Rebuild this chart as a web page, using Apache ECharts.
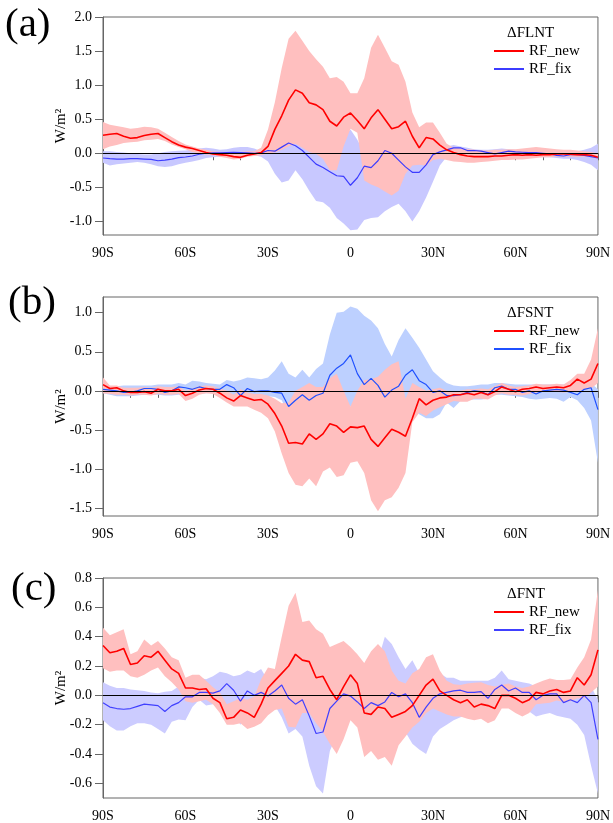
<!DOCTYPE html>
<html><head><meta charset="utf-8">
<script src="https://cdn.jsdelivr.net/npm/echarts@6/dist/echarts.min.js"></script>
<style>html,body{margin:0;padding:0;background:#fff}#c{width:613px;height:823px}</style>
</head><body><div id="c"></div>
<script>
// ---- categories (latitude) ----
const lats = [-90,-87.5,-85,-82.5,-80,-77.5,-75,-72.5,-70,-67.5,-65,-62.5,
  -60,-57.5,-55,-52.5,-50,-47.5,-45,-42.5,-40,-37.5,-35,-32.5,
  -30,-27.5,-25,-22.5,-20,-17.5,-15,-12.5,-10,-7.5,-5,-2.5,
  0,2.5,5,7.5,10,12.5,15,17.5,20,22.5,25,27.5,
  30,32.5,35,37.5,40,42.5,45,47.5,50,52.5,55,57.5,
  60,62.5,65,67.5,70,72.5,75,77.5,80,82.5,85,87.5,90];
const xTickLabels = ['90S','60S','30S','0','30N','60N','90N'];
const yTicksA = [-1.0,-0.5,0.0,0.5,1.0,1.5,2.0];
const yTicksB = [-1.5,-1.0,-0.5,0.0,0.5,1.0];
const yTicksC = [-0.6,-0.4,-0.2,0.0,0.2,0.4,0.6,0.8];

// ---- (a) dFLNT ----
const aNew = [0.265,0.28,0.29,0.25,0.22,0.23,0.26,0.28,0.29,0.23,0.17,0.12,
  0.09,0.07,0.04,0.01,-0.01,-0.02,-0.03,-0.05,-0.06,-0.03,-0.01,0.01,
  0.10,0.35,0.55,0.78,0.93,0.88,0.74,0.71,0.64,0.47,0.40,0.53,
  0.59,0.48,0.36,0.52,0.64,0.50,0.36,0.39,0.47,0.25,0.08,0.23,
  0.21,0.12,0.05,0.01,-0.02,-0.04,-0.05,-0.05,-0.05,-0.04,-0.04,-0.03,
  -0.02,-0.03,-0.02,-0.03,-0.02,-0.02,-0.01,-0.01,-0.015,-0.02,-0.02,-0.03,-0.06];
const aFix = [-0.07,-0.08,-0.085,-0.085,-0.08,-0.08,-0.085,-0.09,-0.11,-0.10,-0.085,-0.065,
  -0.055,-0.04,-0.015,0.0,0.005,0.005,0.01,0.015,0.01,0.005,0.0,0.005,
  0.04,0.03,0.09,0.15,0.11,0.04,-0.06,-0.16,-0.21,-0.27,-0.33,-0.34,
  -0.47,-0.36,-0.19,-0.21,-0.11,0.04,0.0,-0.1,-0.2,-0.28,-0.28,-0.17,
  -0.02,0.02,0.05,0.08,0.08,0.04,0.04,0.03,0.01,-0.01,0.01,0.03,
  0.02,0.015,0.01,0.01,0.0,-0.01,-0.03,-0.04,-0.02,-0.02,-0.03,-0.05,-0.07];
const aNewHi = [0.46,0.42,0.40,0.38,0.36,0.37,0.39,0.38,0.36,0.30,0.24,0.18,
  0.13,0.10,0.07,0.05,0.03,0.02,0.02,0.02,0.02,0.03,0.03,0.08,
  0.35,0.75,1.25,1.68,1.80,1.65,1.50,1.38,1.27,1.10,1.12,1.05,
  0.88,0.88,1.10,1.55,1.74,1.55,1.35,1.30,1.05,0.60,0.38,0.45,
  0.45,0.30,0.14,0.08,0.07,0.06,0.05,0.04,0.04,0.05,0.05,0.06,
  0.06,0.07,0.08,0.09,0.08,0.07,0.06,0.05,0.05,0.04,0.03,0.02,0.0];
const aNewLo = [0.06,0.10,0.12,0.15,0.16,0.17,0.19,0.20,0.21,0.18,0.13,0.09,
  0.06,0.02,0.0,-0.02,-0.03,-0.05,-0.07,-0.09,-0.08,-0.05,-0.04,-0.03,
  0.0,0.01,0.05,0.10,0.14,0.08,0.02,-0.01,-0.08,-0.25,-0.25,0.10,
  0.36,0.30,-0.40,-0.46,-0.50,-0.56,-0.62,-0.55,-0.30,-0.18,-0.17,-0.18,
  -0.10,-0.08,-0.10,-0.12,-0.13,-0.14,-0.14,-0.13,-0.12,-0.11,-0.10,-0.10,
  -0.09,-0.09,-0.08,-0.07,-0.06,-0.06,-0.05,-0.05,-0.05,-0.05,-0.05,-0.06,-0.08];
const aFixHi = [0.03,0.03,0.02,0.01,0.0,-0.01,-0.02,-0.02,0.0,0.02,0.03,0.035,
  0.04,0.05,0.07,0.08,0.07,0.05,0.06,0.08,0.09,0.09,0.07,0.03,
  0.05,0.07,0.10,0.16,0.18,0.12,0.05,0.0,-0.05,0.0,0.12,0.25,
  0.35,0.20,0.0,0.0,0.10,0.20,0.15,0.05,-0.05,-0.10,-0.10,0.0,
  0.06,0.09,0.10,0.12,0.10,0.08,0.06,0.05,0.05,0.06,0.07,0.06,
  0.05,0.05,0.04,0.04,0.03,0.03,0.02,0.02,0.02,0.03,0.05,0.08,0.14];
const aFixLo = [-0.14,-0.18,-0.16,-0.15,-0.14,-0.13,-0.14,-0.16,-0.19,-0.20,-0.19,-0.16,
  -0.14,-0.12,-0.10,-0.07,-0.06,-0.05,-0.04,-0.02,-0.02,-0.03,-0.03,-0.05,
  -0.12,-0.30,-0.43,-0.40,-0.25,-0.38,-0.55,-0.70,-0.72,-0.80,-0.95,-1.03,
  -1.13,-1.12,-0.98,-0.95,-0.94,-0.85,-0.79,-0.74,-0.85,-1.00,-0.85,-0.65,
  -0.42,-0.18,-0.05,-0.01,0.0,-0.02,-0.03,-0.04,-0.05,-0.05,-0.05,-0.05,
  -0.05,-0.05,-0.05,-0.05,-0.06,-0.06,-0.07,-0.08,-0.08,-0.10,-0.13,-0.17,-0.25];

// ---- (b) dFSNT ----
const bNew = [0.08,0.03,0.04,0.0,-0.02,-0.02,-0.01,-0.03,0.02,0.0,0.0,0.02,
  -0.06,-0.03,0.01,0.03,0.02,-0.03,-0.09,-0.13,-0.06,-0.09,-0.12,-0.11,
  -0.17,-0.29,-0.45,-0.67,-0.66,-0.68,-0.55,-0.62,-0.55,-0.42,-0.45,-0.53,
  -0.46,-0.47,-0.45,-0.62,-0.71,-0.60,-0.49,-0.53,-0.58,-0.35,-0.10,-0.18,
  -0.12,-0.09,-0.08,-0.05,-0.05,-0.03,-0.05,-0.02,-0.05,-0.01,0.05,0.02,
  -0.01,0.02,0.03,0.05,0.03,0.04,0.05,0.04,0.07,0.15,0.10,0.15,0.35];
const bFix = [0.02,0.01,0.0,-0.02,-0.02,0.0,0.03,0.03,0.02,-0.02,0.0,0.05,
  0.04,0.02,0.05,0.03,0.02,0.02,0.08,0.04,-0.06,0.03,-0.01,0.0,
  0.0,-0.02,-0.03,-0.20,-0.12,-0.05,-0.12,-0.06,-0.03,0.20,0.29,0.35,
  0.46,0.22,0.08,0.16,0.07,-0.08,0.01,0.06,0.20,0.27,0.13,0.08,
  -0.02,0.0,-0.06,-0.06,-0.05,-0.02,0.0,-0.01,-0.05,0.04,0.06,0.02,
  0.02,-0.02,0.0,-0.04,0.0,0.01,0.02,0.01,-0.02,-0.05,0.02,0.04,-0.24];
const bNewHi = [0.17,0.07,0.07,0.04,0.04,0.04,0.05,0.04,0.06,0.05,0.05,0.06,
  0.0,0.03,0.06,0.07,0.06,0.03,0.0,-0.05,0.02,-0.02,-0.04,-0.04,
  -0.06,-0.10,-0.16,-0.15,0.0,0.05,0.10,0.05,0.05,0.16,0.22,0.0,
  -0.20,0.0,0.14,0.15,0.18,0.27,0.34,0.38,-0.10,0.10,0.05,0.0,
  0.02,0.04,0.0,-0.02,0.0,0.02,0.02,0.03,0.02,0.06,0.10,0.07,
  0.05,0.06,0.07,0.09,0.08,0.08,0.09,0.08,0.14,0.22,0.22,0.40,0.80];
const bNewLo = [-0.03,-0.04,-0.05,-0.05,-0.06,-0.05,-0.05,-0.06,-0.04,-0.05,-0.05,-0.04,
  -0.13,-0.10,-0.05,-0.03,-0.04,-0.09,-0.15,-0.20,-0.20,-0.20,-0.24,-0.28,
  -0.35,-0.52,-0.80,-1.05,-1.20,-1.22,-1.12,-1.22,-1.03,-0.98,-1.10,-1.08,
  -0.92,-0.90,-1.05,-1.40,-1.54,-1.40,-1.36,-1.24,-1.05,-0.40,-0.28,-0.32,
  -0.25,-0.21,-0.17,-0.13,-0.14,-0.14,-0.10,-0.10,-0.11,-0.06,-0.03,-0.05,
  -0.05,-0.06,-0.04,-0.02,-0.01,0.0,-0.01,-0.02,-0.01,0.0,0.01,0.03,0.10];
const bFixHi = [0.04,0.05,0.06,0.07,0.07,0.07,0.07,0.07,0.08,0.08,0.08,0.10,
  0.08,0.13,0.12,0.10,0.09,0.08,0.14,0.12,0.14,0.17,0.16,0.15,
  0.17,0.26,0.38,0.22,0.17,0.27,0.17,0.28,0.35,0.72,1.00,1.01,
  1.08,1.05,0.96,0.90,0.80,0.60,0.44,0.65,0.80,0.68,0.55,0.40,
  0.25,0.17,0.10,0.07,0.06,0.06,0.07,0.08,0.08,0.10,0.10,0.09,
  0.08,0.08,0.08,0.08,0.08,0.08,0.08,0.08,0.09,0.10,0.12,0.10,0.02];
const bFixLo = [-0.03,-0.05,-0.07,-0.07,-0.07,-0.06,-0.05,-0.05,-0.05,-0.06,-0.06,-0.05,
  -0.06,-0.06,-0.04,-0.03,-0.03,-0.04,-0.06,-0.18,-0.11,-0.06,-0.06,-0.06,
  -0.07,-0.08,-0.12,-0.30,-0.30,-0.25,-0.30,-0.25,-0.20,-0.10,-0.10,-0.12,
  -0.20,-0.10,-0.20,-0.20,-0.30,-0.35,-0.30,-0.30,-0.30,-0.20,-0.30,-0.35,
  -0.35,-0.30,-0.15,-0.22,-0.13,-0.11,-0.11,-0.11,-0.10,-0.05,-0.05,-0.06,
  -0.07,-0.08,-0.10,-0.11,-0.10,-0.09,-0.10,-0.14,-0.08,-0.12,-0.22,-0.38,-0.92];

// ---- (c) dFNT ----
const cNew = [0.34,0.29,0.30,0.32,0.21,0.22,0.27,0.26,0.30,0.24,0.18,0.15,
  0.05,0.05,0.04,0.045,-0.02,-0.05,-0.16,-0.15,-0.10,-0.12,-0.15,-0.06,
  0.05,0.10,0.15,0.20,0.28,0.24,0.23,0.12,0.13,0.04,-0.03,0.06,
  0.14,0.08,-0.12,-0.13,-0.08,-0.09,-0.15,-0.13,-0.11,-0.07,0.0,0.07,
  0.11,0.03,0.0,-0.03,-0.05,-0.03,-0.08,-0.06,-0.07,-0.09,0.0,0.0,
  -0.02,-0.05,-0.03,0.02,0.01,0.03,0.04,0.02,0.03,0.12,0.07,0.14,0.31];
const cFix = [-0.05,-0.08,-0.09,-0.095,-0.09,-0.075,-0.06,-0.065,-0.07,-0.11,-0.07,-0.05,
  -0.01,-0.01,0.02,0.02,0.015,0.03,0.08,0.035,-0.04,0.03,0.0,0.02,
  -0.005,0.03,0.07,-0.02,-0.06,-0.03,-0.14,-0.26,-0.25,-0.09,-0.04,0.01,
  -0.005,-0.045,-0.09,-0.05,-0.07,-0.045,0.02,-0.01,0.01,-0.05,-0.15,-0.08,
  -0.02,0.01,0.02,0.03,0.035,0.02,0.02,0.025,-0.02,0.04,0.07,0.03,
  0.05,0.02,0.02,-0.03,0.0,0.01,0.01,-0.05,-0.03,-0.05,0.0,-0.05,-0.30];
const cNewHi = [0.46,0.41,0.43,0.45,0.28,0.30,0.38,0.34,0.37,0.32,0.26,0.24,
  0.12,0.14,0.14,0.10,0.055,0.02,-0.06,-0.04,-0.02,-0.03,-0.01,0.11,
  0.19,0.18,0.40,0.61,0.70,0.50,0.51,0.45,0.42,0.33,0.35,0.37,
  0.33,0.28,0.22,0.30,0.35,0.30,0.17,0.10,0.08,0.15,0.18,0.26,
  0.28,0.17,0.10,0.075,0.07,0.08,0.085,0.09,0.07,0.06,0.07,0.08,
  0.06,0.05,0.06,0.08,0.10,0.115,0.105,0.105,0.11,0.19,0.26,0.38,0.72];
const cNewLo = [0.185,0.16,0.17,0.17,0.13,0.12,0.14,0.17,0.19,0.13,0.09,0.04,
  -0.04,-0.05,-0.04,-0.03,-0.06,-0.12,-0.20,-0.20,-0.19,-0.23,-0.215,-0.19,
  -0.135,-0.10,-0.09,-0.215,-0.22,-0.12,-0.12,-0.19,-0.25,-0.33,-0.40,-0.30,
  -0.17,-0.22,-0.42,-0.38,-0.44,-0.42,-0.48,-0.34,-0.28,-0.22,-0.18,-0.12,
  -0.09,-0.11,-0.13,-0.145,-0.145,-0.16,-0.17,-0.16,-0.19,-0.17,-0.09,-0.09,
  -0.12,-0.145,-0.12,-0.06,-0.055,-0.05,-0.035,-0.045,-0.04,-0.02,-0.02,0.02,0.06];
const cFixHi = [0.09,0.065,0.05,0.05,0.04,0.035,0.03,0.02,0.015,0.025,0.03,0.06,
  0.10,0.12,0.12,0.11,0.13,0.16,0.15,0.13,0.14,0.17,0.15,0.18,
  0.10,0.12,0.15,0.10,0.05,0.05,0.0,-0.10,-0.05,0.05,0.10,0.12,
  0.10,0.08,0.10,0.20,0.24,0.40,0.35,0.26,0.18,0.24,0.15,0.10,
  0.08,0.15,0.12,0.12,0.10,0.10,0.10,0.10,0.10,0.12,0.17,0.11,
  0.10,0.09,0.08,0.06,0.07,0.08,0.05,0.04,0.03,0.03,0.05,0.06,-0.03];
const cFixLo = [-0.17,-0.21,-0.24,-0.24,-0.21,-0.19,-0.19,-0.20,-0.23,-0.26,-0.18,-0.165,
  -0.17,-0.08,-0.03,-0.07,-0.06,-0.05,-0.08,-0.13,-0.20,-0.12,-0.10,-0.08,
  -0.06,-0.07,-0.15,-0.26,-0.23,-0.28,-0.48,-0.62,-0.67,-0.38,-0.27,-0.15,
  -0.06,-0.12,-0.20,-0.20,-0.20,-0.15,-0.10,-0.15,-0.25,-0.33,-0.37,-0.40,
  -0.28,-0.23,-0.20,-0.17,-0.15,-0.14,-0.12,-0.11,-0.10,-0.09,-0.06,-0.06,
  -0.08,-0.09,-0.11,-0.145,-0.13,-0.12,-0.14,-0.15,-0.16,-0.20,-0.27,-0.48,-0.67];

const FONT = '"Liberation Serif","Times New Roman",serif';
const AX = '#666';
const panels = [
  {letter:'(a)', title:'\u0394FLNT', newL:aNew, fixL:aFix, newHi:aNewHi, newLo:aNewLo, fixHi:aFixHi, fixLo:aFixLo,
   min:-1.2, max:2.0, ticks:yTicksA, top:17, height:218, letterTop:3, letterLeft:5,
   fixColor:'#3c3cff', fixShade:'#c8c8ff'},
  {letter:'(b)', title:'\u0394FSNT', newL:bNew, fixL:bFix, newHi:bNewHi, newLo:bNewLo, fixHi:bFixHi, fixLo:bFixLo,
   min:-1.6, max:1.2, ticks:yTicksB, top:297, height:219, letterTop:281, letterLeft:8,
   fixColor:'#1f50ff', fixShade:'#bdd0ff'},
  {letter:'(c)', title:'\u0394FNT', newL:cNew, fixL:cFix, newHi:cNewHi, newLo:cNewLo, fixHi:cFixHi, fixLo:cFixLo,
   min:-0.7, max:0.8, ticks:yTicksC, top:578, height:220, letterTop:567, letterLeft:11,
   fixColor:'#4040ff', fixShade:'#ccccff'}
];
const NEWC = '#ff0000', NEWSHADE = '#ffbfbf';

const grid = [], xAxis = [], yAxis = [], series = [], legend = [], title = [];
panels.forEach((p, i) => {
  grid.push({left:103, right:10, top:p.top, height:p.height, show:true, borderColor:AX, borderWidth:1, backgroundColor:'transparent'});
  xAxis.push({type:'category', gridIndex:i, data:lats, boundaryGap:false,
    axisLine:{show:true, lineStyle:{color:AX, width:1}},
    axisTick:{show:true, inside:false, length:7, interval:(idx)=>idx%4===0, lineStyle:{color:AX}},
    axisLabel:{interval:(idx)=>idx%12===0, formatter:(v, idx)=>xTickLabels[Math.round(idx/12)],
      margin:11, fontFamily:FONT, fontSize:14, color:'#000'},
    splitLine:{show:false}});
  yAxis.push({type:'value', gridIndex:i, min:p.min, max:p.max,
    axisLine:{show:true, lineStyle:{color:AX, width:1}},
    axisTick:{show:true, inside:false, length:8, customValues:p.ticks, lineStyle:{color:AX}},
    axisLabel:{customValues:p.ticks, formatter:(v)=>Number(v).toFixed(1), margin:11, fontFamily:FONT, fontSize:14, color:'#000'},
    splitLine:{show:false},
    name:'W/m\u00B2', nameLocation:'middle', nameGap:34, nameMoveOverlap:false,
    nameTextStyle:{fontFamily:FONT, fontSize:15, color:'#000'}});
  const base = {type:'line', xAxisIndex:i, yAxisIndex:i, symbol:'none', showSymbol:false, silent:true, animation:false};
  series.push(Object.assign({}, base, {name:'fixLo'+i, data:p.fixLo, stack:'fix'+i, stackStrategy:'all', lineStyle:{width:0, opacity:0}, z:1}));
  series.push(Object.assign({}, base, {name:'fixBand'+i, data:p.fixHi.map((h,k)=>h-p.fixLo[k]), stack:'fix'+i, stackStrategy:'all',
    lineStyle:{width:0, opacity:0}, areaStyle:{color:p.fixShade, opacity:1}, z:1}));
  series.push(Object.assign({}, base, {name:'newLo'+i, data:p.newLo, stack:'new'+i, stackStrategy:'all', lineStyle:{width:0, opacity:0}, z:2}));
  series.push(Object.assign({}, base, {name:'newBand'+i, data:p.newHi.map((h,k)=>h-p.newLo[k]), stack:'new'+i, stackStrategy:'all',
    lineStyle:{width:0, opacity:0}, areaStyle:{color:NEWSHADE, opacity:1}, z:2,
    markLine:{silent:true, symbol:['none','none'], label:{show:false}, animation:false,
      lineStyle:{color:'#000', width:1.2, type:'solid'}, data:[{yAxis:0}]}}));
  series.push(Object.assign({}, base, {name:'RF_fix', data:p.fixL, color:p.fixColor, lineStyle:{color:p.fixColor, width:1.2}, z:3}));
  series.push(Object.assign({}, base, {name:'RF_new', data:p.newL, color:NEWC, lineStyle:{color:NEWC, width:1.6}, z:4}));
  legend.push({orient:'vertical', left:494, top:p.top+25, padding:0, itemGap:0, itemWidth:30, itemHeight:2, icon:'rect',
    selectedMode:false, textStyle:{fontFamily:FONT, fontSize:15, color:'#000', lineHeight:18},
    data:[{name:'RF_new', itemStyle:{color:NEWC}}, {name:'RF_fix', itemStyle:{color:p.fixColor}}]});
  title.push({text:p.letter, left:p.letterLeft, top:p.letterTop, padding:0,
    textStyle:{fontFamily:FONT, fontSize:41, fontWeight:'normal', color:'#000', lineHeight:44}});
  title.push({text:p.title, left:507, top:p.top+7, padding:0,
    textStyle:{fontFamily:FONT, fontSize:15, fontWeight:'normal', color:'#000', lineHeight:18}});
});

const chart = echarts.init(document.getElementById('c'), null, {renderer:'canvas'});
chart.setOption({animation:false, backgroundColor:'#fff', grid, xAxis, yAxis, series, legend, title});
</script></body></html>
